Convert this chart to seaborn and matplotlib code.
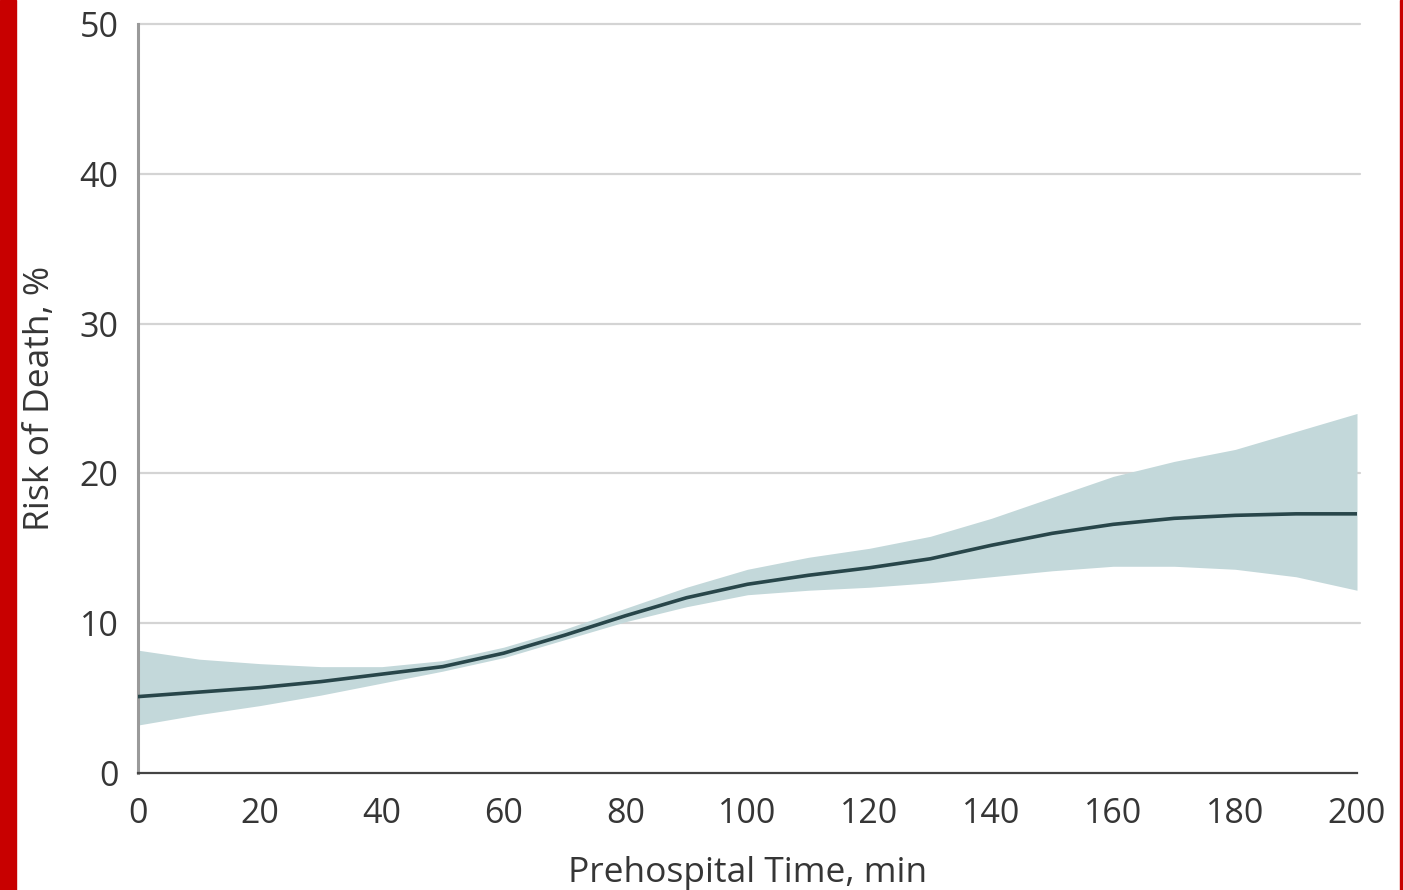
import matplotlib
matplotlib.use("Agg")
import matplotlib.pyplot as plt
import seaborn as sns
import pandas as pd
from matplotlib.patches import Rectangle

# ---- data ----
time_min = [0, 10, 20, 30, 40, 50, 60, 70, 80, 90, 100, 110, 120, 130, 140, 150, 160, 170, 180, 190, 200]
risk_mid = [5.1, 5.4, 5.7, 6.1, 6.6, 7.1, 8.0, 9.2, 10.5, 11.7, 12.6, 13.2, 13.7, 14.3, 15.2, 16.0, 16.6, 17.0, 17.2, 17.3, 17.3]
risk_upper = [8.2, 7.6, 7.3, 7.1, 7.1, 7.5, 8.4, 9.6, 11.0, 12.4, 13.6, 14.4, 15.0, 15.8, 17.0, 18.4, 19.8, 20.8, 21.6, 22.8, 24.0]
risk_lower = [3.2, 3.9, 4.5, 5.2, 6.0, 6.8, 7.7, 8.9, 10.1, 11.1, 11.9, 12.2, 12.4, 12.7, 13.1, 13.5, 13.8, 13.8, 13.6, 13.1, 12.2]
x_ticks = [0, 20, 40, 60, 80, 100, 120, 140, 160, 180, 200]
y_ticks = [0, 10, 20, 30, 40, 50]

df = pd.DataFrame({"time": time_min, "mid": risk_mid, "lo": risk_lower, "hi": risk_upper})

sns.set_style("white")
plt.rcParams["font.family"] = ["Open Sans", "DejaVu Sans"]

fig = plt.figure(figsize=(14.03, 8.90), dpi=100)
ax = fig.add_axes([138 / 1403, 1 - 773 / 890, (1357 - 138) / 1403, (773 - 24) / 890])

text_color = "#363636"

for yt in y_ticks[1:]:
    ax.plot([0, 200.5], [yt, yt], color="#d4d4d4", lw=1.6, zorder=0, clip_on=False)

ax.fill_between(df["time"], df["lo"], df["hi"], color="#c3d8da", lw=0, zorder=1)
sns.lineplot(data=df, x="time", y="mid", ax=ax, color="#28464a", lw=2.6, zorder=3)

ax.set_xlim(0, 200)
ax.set_ylim(0, 50)
ax.set_xticks(x_ticks)
ax.set_yticks(y_ticks)
ax.tick_params(axis="both", labelsize=24.5, colors=text_color, length=9, width=1.6)
ax.tick_params(axis="y", color="#777777", pad=5)
ax.tick_params(axis="x", color="#444444", pad=8)

for s in ["top", "right"]:
    ax.spines[s].set_visible(False)
ax.spines["left"].set_color("#9a9a9a")
ax.spines["left"].set_linewidth(2.2)
ax.spines["bottom"].set_color("#444444")
ax.spines["bottom"].set_linewidth(1.6)

ax.set_xlabel("Prehospital Time, min", fontsize=25.5, color=text_color, labelpad=18)
ax.set_ylabel("Risk of Death, %", fontsize=25.5, color=text_color, labelpad=16)

# red frame edges of the source image
fig.patches.append(Rectangle((0, 0), 16 / 1403, 1, transform=fig.transFigure, color="#c80000", zorder=10))
fig.patches.append(Rectangle((1400 / 1403, 0), 3 / 1403, 1, transform=fig.transFigure, color="#c80000", zorder=10))

fig.savefig("out.png", dpi=100)
